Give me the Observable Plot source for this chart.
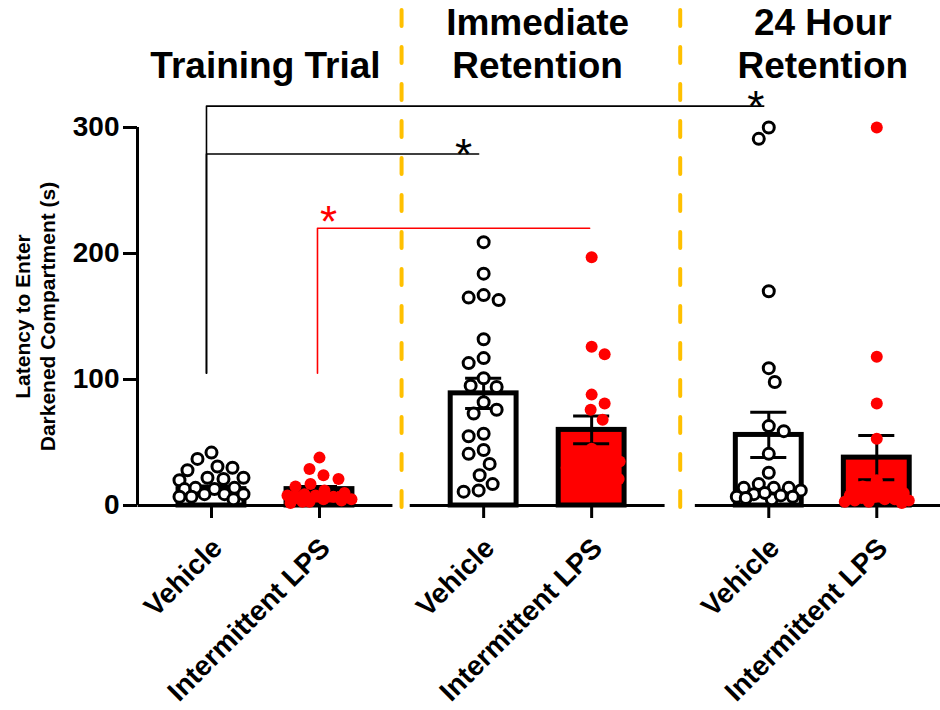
<!DOCTYPE html>
<html>
<head>
<meta charset="utf-8">
<script src="https://cdn.jsdelivr.net/npm/d3@7"></script>
<script src="https://cdn.jsdelivr.net/npm/@observablehq/plot@0.6"></script>
<style>
  html, body { margin: 0; padding: 0; background: #fff; }
</style>
</head>
<body>
<div id="chart"></div>
<script>
// ---------------- data ----------------
const phaseLabels = ["Training Trial", "Immediate\nRetention", "24 Hour\nRetention"];
const treatmentLabels = ["Vehicle", "Intermittent LPS"];
const yTicks = [0, 100, 200, 300];
const yLabel = "Latency to Enter\nDarkened Compartment (s)";

const trainingVehicle = [42, 37, 31, 30, 28, 22, 21, 22, 20, 13, 13, 14, 14, 7, 9, 9, 7, 5, 9];
const trainingLPS = [38, 29, 24, 21, 17, 15, 12, 10, 9, 8, 8, 7, 6, 5, 5, 4, 3, 3, 2];
const immediateVehicle = [209, 184, 167, 163, 165, 132, 113, 117, 101, 94, 95, 82, 73, 76, 57, 55, 41, 44, 33, 24, 17, 11, 12];
const immediateLPS = [197, 126, 120, 88, 81, 76, 68, 45, 42, 38, 35, 32, 30, 27, 24, 21, 18, 12];
const hour24Vehicle = [300, 291, 170, 109, 98, 63, 59, 41, 26, 17, 14, 14, 14, 12, 9, 7, 7, 6, 5, 10, 8];
const hour24LPS = [300, 118, 81, 53, 20, 15, 12, 10, 8, 7, 6, 5, 5, 4, 4, 3, 3, 2];

// bar heights (mean) and error (SEM), order: TT-Veh, TT-LPS, IR-Veh, IR-LPS, 24h-Veh, 24h-LPS
const meanLatency = [13, 13, 89, 60, 56, 38];
const semLatency = [2.5, 2, 12, 11, 18, 17.5];

// significance comparisons: [phase, treatment] start -> end, bracket level
const compStart = [[0, 0], [0, 0], [0, 1]];
const compEnd = [[2, 0], [1, 0], [1, 1]];
const compLevel = [317, 279, 220];
const bracketBase = 105;

// ---------------- layout ----------------
const W = 940, H = 710;
const margin = {top: 127, right: 0, bottom: 205, left: 137};
const groupOffset = [0, 2.52, 5.16];
const xDomain = [-0.685, 6.75];
const yDomain = [0, 300];
const halfGroup = 1.18;
const barHalf = 0.305;
const capHalf = 0.167;
const pxPerX = (W - margin.left - margin.right) / (xDomain[1] - xDomain[0]);
const pxPerY = (H - margin.top - margin.bottom) / (yDomain[1] - yDomain[0]);
const pos = (g, t) => groupOffset[g] + t;
const center = g => groupOffset[g] + 0.5;

// deterministic beeswarm (pixel space) for point spreading
function swarm(vals, D = 15, Wmax = 32) {
  const order = d3.range(vals.length).sort((a, b) => vals[b] - vals[a]);
  const placed = [];
  const off = new Array(vals.length);
  order.forEach((i, n) => {
    const py = vals[i] * pxPerY;
    let chosen = null, best = -1, bestOff = 0;
    const sgn = n % 2 ? -1 : 1;
    for (let s = 0; s <= Wmax && chosen === null; s++) {
      const cands = s === 0 ? [0] : [sgn * s, -sgn * s];
      for (const c of cands) {
        let md = Infinity;
        for (const p of placed) {
          const d = Math.hypot(p.x - c, p.y - py);
          if (d < md) md = d;
        }
        if (md >= D) { chosen = c; break; }
        if (md > best) { best = md; bestOff = c; }
      }
    }
    if (chosen === null) chosen = bestOff;
    off[i] = chosen;
    placed.push({x: chosen, y: py});
  });
  return off;
}

const series = [[trainingVehicle, trainingLPS], [immediateVehicle, immediateLPS], [hour24Vehicle, hour24LPS]];
const bars = [];
const points = [];
series.forEach((pair, g) => pair.forEach((vals, t) => {
  const k = g * 2 + t;
  bars.push({g, t, x: pos(g, t), mean: meanLatency[k], sem: semLatency[k]});
  const offs = swarm(vals);
  vals.forEach((v, i) => points.push({g, t, value: v, x: pos(g, t) + offs[i] / pxPerX}));
}));

const groups = [0, 1, 2];
const dividers = [0, 1].map(g => (pos(g, 1) + pos(g + 1, 0)) / 2);

const bracketMarks = [];
compStart.forEach((s, i) => {
  const e = compEnd[i];
  const lvl = compLevel[i];
  const isRed = s[1] === 1;
  const color = isRed ? "#ff0000" : "black";
  const path = [[pos(s[0], s[1]), bracketBase], [pos(s[0], s[1]), lvl], [pos(e[0], e[1]), lvl]];
  bracketMarks.push(Plot.line(path, {x: d => d[0], y: d => d[1], stroke: color, strokeWidth: 1.6, dx: isRed ? -2 : -5}));
  const ax = isRed ? pos(s[0], s[1]) : pos(e[0], e[1]);
  bracketMarks.push(Plot.text([lvl], {
    x: () => ax, y: d => d, text: () => "*",
    fill: color, fontSize: 44, fontWeight: "normal",
    lineAnchor: "bottom", textAnchor: "middle",
    dx: isRed ? 9 : (i === 0 ? -13 : -20),
    dy: isRed ? 9 : 16
  }));
});

const chart = Plot.plot({
  width: W,
  height: H,
  marginTop: margin.top,
  marginRight: margin.right,
  marginBottom: margin.bottom,
  marginLeft: margin.left,
  x: {domain: xDomain},
  y: {domain: yDomain},
  style: {
    fontFamily: "'Liberation Sans', Arial, Helvetica, sans-serif",
    fontWeight: "bold",
    color: "black",
    background: "white",
    overflow: "visible"
  },
  marks: [
    // orange dashed separators
    Plot.ruleX(dividers, {x: d => d, stroke: "#FFC000", strokeWidth: 4, strokeDasharray: "16,21",
      strokeLinecap: "round", insetTop: -117, insetBottom: -10}),
    // bars
    Plot.rectY(bars.filter(d => d.t === 0), {x1: d => d.x - barHalf, x2: d => d.x + barHalf, y1: 0, y2: "mean",
      fill: "white", stroke: "black", strokeWidth: 5}),
    Plot.rectY(bars.filter(d => d.t === 1), {x1: d => d.x - barHalf, x2: d => d.x + barHalf, y1: 0, y2: "mean",
      fill: "#ff0000", stroke: "black", strokeWidth: 5}),
    // error bars
    Plot.ruleX(bars, {x: "x", y1: d => d.mean - d.sem, y2: d => d.mean + d.sem, strokeWidth: 3}),
    Plot.ruleY(bars, {x1: d => d.x - capHalf, x2: d => d.x + capHalf, y: d => d.mean + d.sem, strokeWidth: 3}),
    Plot.ruleY(bars, {x1: d => d.x - capHalf, x2: d => d.x + capHalf, y: d => d.mean - d.sem, strokeWidth: 3}),
    // broken baseline and y axis line
    Plot.ruleY(groups, {y: () => 0, x1: g => center(g) - halfGroup, x2: g => center(g) + halfGroup, strokeWidth: 3}),
    Plot.ruleX([xDomain[0]], {x: d => d, strokeWidth: 3}),
    Plot.axisY(yTicks, {tickSize: 14, tickPadding: 4, fontSize: 28, strokeWidth: 3, label: null}),
    Plot.axisX(bars.map(d => d.x), {tickSize: 13, strokeWidth: 3, tickFormat: () => "", label: null}),
    // points
    Plot.dot(points.filter(d => d.t === 0), {x: "x", y: "value", r: 5.5, fill: "white", stroke: "black", strokeWidth: 3}),
    Plot.dot(points.filter(d => d.t === 1), {x: "x", y: "value", r: 6, fill: "#ff0000"}),
    // significance
    ...bracketMarks,
    // phase titles
    Plot.text(phaseLabels, {x: (d, i) => center(i), text: d => d, frameAnchor: "top", lineAnchor: "bottom",
      dy: -50, fontSize: 37, lineHeight: 1.15}),
    // treatment labels
    Plot.text(bars, {x: "x", text: d => treatmentLabels[d.t], frameAnchor: "bottom", rotate: -45,
      textAnchor: "end", lineAnchor: "middle", fontSize: 28, dx: 6, dy: 38}),
    // y label
    Plot.text([yLabel], {text: d => d, frameAnchor: "left", textAnchor: "middle", rotate: -90,
      dx: -103, fontSize: 21, lineHeight: 1.2})
  ]
});
document.getElementById("chart").appendChild(chart);
</script>
</body>
</html>
